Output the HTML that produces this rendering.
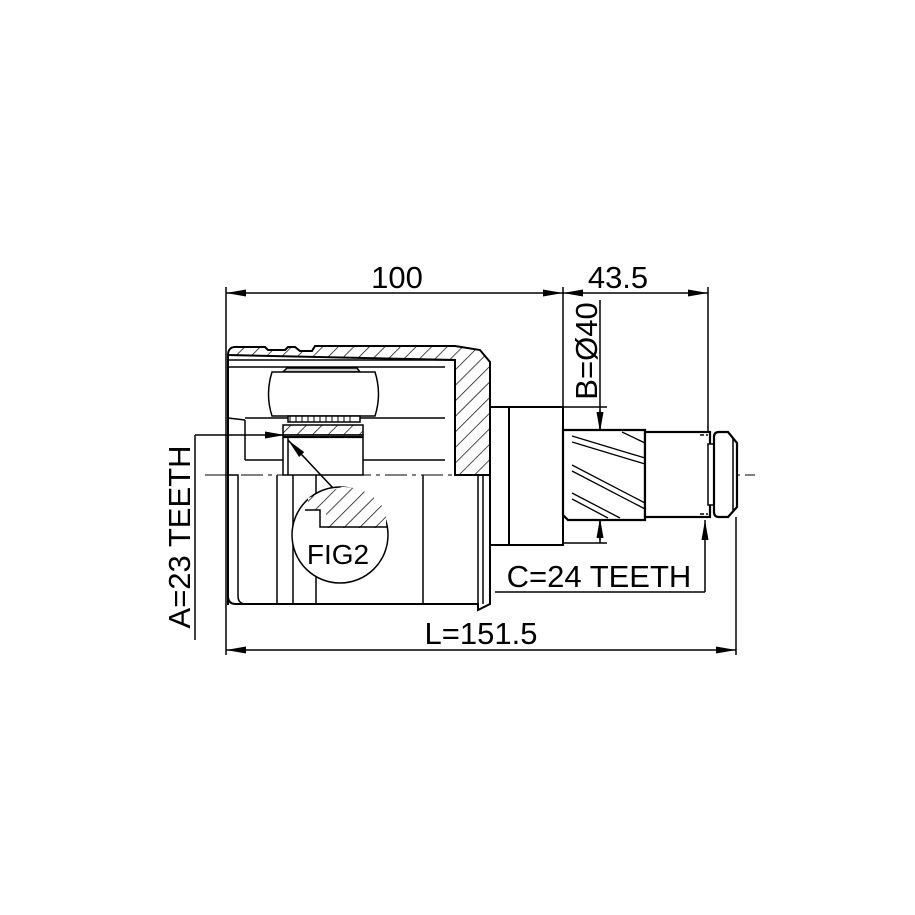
<!DOCTYPE html>
<html><head><style>html,body{margin:0;padding:0;background:#fff}svg{display:block}</style></head>
<body>
<svg width="915" height="915" viewBox="0 0 915 915" xmlns="http://www.w3.org/2000/svg" font-family="Liberation Sans, sans-serif">
<defs>
<pattern id="h" patternUnits="userSpaceOnUse" width="11" height="11" patternTransform="rotate(45)">
<rect width="11" height="11" fill="#fff"/><line x1="0" y1="0" x2="0" y2="11" stroke="#000" stroke-width="1.4"/>
</pattern>
<marker id="b" viewBox="0 0 20 7" refX="20" refY="3.5" markerWidth="20" markerHeight="7" markerUnits="userSpaceOnUse" orient="auto-start-reverse"><path d="M0,0 L20,3.5 L0,7 z"/></marker>
</defs>
<g fill="none" stroke="#000" stroke-width="1.5">
<!-- dims -->
<line x1="226" y1="287" x2="226" y2="655"/>
<line x1="563" y1="287" x2="563" y2="407"/>
<line x1="708" y1="287" x2="708" y2="432"/>
<line x1="226" y1="293" x2="563" y2="293" marker-start="url(#b)" marker-end="url(#b)"/>
<line x1="563" y1="293" x2="708" y2="293" marker-start="url(#b)" marker-end="url(#b)"/>
<line x1="226" y1="650" x2="736" y2="650" marker-start="url(#b)" marker-end="url(#b)"/>
<line x1="736" y1="517" x2="736" y2="655"/>
<!-- B -->
<line x1="563" y1="407" x2="607" y2="407"/>
<line x1="563" y1="543" x2="607" y2="543"/>
<line x1="600" y1="300" x2="600" y2="543"/>
<line x1="600" y1="410" x2="600" y2="432" marker-end="url(#b)"/>
<line x1="600" y1="540" x2="600" y2="518" marker-end="url(#b)"/>
<!-- C -->
<line x1="495" y1="592" x2="705" y2="592"/>
<line x1="705" y1="592" x2="705" y2="520" marker-end="url(#b)"/>
<!-- A -->
<line x1="195" y1="435" x2="195" y2="640"/>
<line x1="195" y1="435" x2="285" y2="435" marker-end="url(#b)"/>
<!-- centerline -->
<line x1="205" y1="475" x2="755" y2="475" stroke-width="1.1" stroke-dasharray="22,5,4,5"/>

<!-- housing upper -->
<path d="M228,355 Q228,346 238,347 L265,347 L268,350 L285,350 L288,347 L295,347 L300,351 L312,351 L315,346 L455,346 L480,350 Q485,356 490,362 L490,475 L455,475 L455,360 Z" fill="url(#h)" stroke-width="2"/>
<path d="M228,355 L228,605" stroke-width="2"/>
<path d="M228,360 L455,360"/>
<line x1="228" y1="367" x2="445" y2="367"/>
<line x1="228" y1="418" x2="245" y2="420"/>
<line x1="245" y1="420" x2="245" y2="460"/>
<line x1="245" y1="418" x2="445" y2="418"/>
<line x1="245" y1="460" x2="445" y2="460"/>
<!-- roller -->
<path d="M287,368 L357,368 L360,372 L283,372 Z" fill="#ccc"/>
<path d="M272,372 L375,372 Q382,394 375,416 L272,416 Q265,394 272,372 Z" fill="#fff"/>
<rect x="288" y="416" width="72" height="6" fill="#fff"/>
<path d="M290,416 v6 M296,416 v6 M302,416 v6 M308,416 v6 M314,416 v6 M320,416 v6 M326,416 v6 M332,416 v6 M338,416 v6 M344,416 v6 M350,416 v6" stroke-width="1"/>
<rect x="283" y="425" width="80" height="10" fill="url(#h)"/>
<rect x="283" y="435" width="80" height="40" fill="#fff"/>
<line x1="283" y1="437" x2="363" y2="437" stroke-width="2.2"/>
<line x1="288" y1="437" x2="288" y2="475"/>
<!-- lower body -->
<path d="M228,475 L228,596 Q228,604 236,604 L478,604 L478,610 L490,604 L490,475" stroke-width="2"/>
<path d="M228,475 L238,475 L238,596 Q238,604 246,604"/>
<line x1="277" y1="475" x2="277" y2="604"/>
<line x1="293" y1="475" x2="293" y2="604"/>
<line x1="316" y1="475" x2="316" y2="604"/>
<line x1="423" y1="475" x2="423" y2="604"/>
<line x1="478" y1="475" x2="478" y2="604"/>
<line x1="483" y1="475" x2="483" y2="604"/>
<!-- FIG2 -->
<circle cx="340" cy="535" r="48" fill="#fff"/>
<path d="M308,498 L308,510 L326,510 L326,528 L386,528 L386,512 A48,48 0 0 0 342,487 Z" fill="url(#h)" stroke="none"/>
<path d="M305,510 L320,510 L320,527 L387,527"/>
<line x1="333" y1="488" x2="288" y2="440" marker-end="url(#b)"/>
<!-- neck + collar -->
<rect x="490" y="407" width="19" height="138" fill="#fff" stroke-width="2"/>
<rect x="509" y="407" width="54" height="138" fill="#fff" stroke-width="2"/>
<!-- spline -->
<path d="M563,430 L568,430 L645,430 L645,520 L568,520 L563,515 Z" fill="#fff" stroke-width="2.2"/>
<g stroke-width="1.3">
<line x1="572" y1="436" x2="645" y2="458"/><line x1="572" y1="442" x2="645" y2="464"/>
<line x1="572" y1="465" x2="645" y2="503"/><line x1="572" y1="471" x2="645" y2="509"/>
<line x1="572" y1="493" x2="620" y2="518"/><line x1="572" y1="499" x2="608" y2="518"/>
<line x1="622" y1="432" x2="645" y2="443"/>
</g>
<rect x="645" y="432" width="65" height="85" fill="#fff" stroke-width="2.2"/>
<path d="M700,435 h8 M700,514 h8" stroke-dasharray="4,2"/>
<rect x="708" y="444" width="6" height="61" fill="#fff"/>
<path d="M714,437 Q714,432 719,432 L728,432 L737,443 L737,507 L728,517 L719,517 Q714,517 714,512 Z" fill="#fff" stroke-width="2.2"/>
<line x1="733" y1="438" x2="733" y2="511"/>
</g>
<g font-size="31" fill="#000" text-anchor="middle">
<text x="397" y="288">100</text>
<text x="618" y="288">43.5</text>
<text x="481" y="644">L=151.5</text>
<text x="599" y="587">C=24 TEETH</text>
<text x="338" y="564" font-size="28">FIG2</text>
<text transform="translate(597,351) rotate(-90)" x="0" y="0">B=Ø40</text>
<text transform="translate(190,537) rotate(-90)" x="0" y="0">A=23 TEETH</text>
</g>
</svg>
</body></html>
